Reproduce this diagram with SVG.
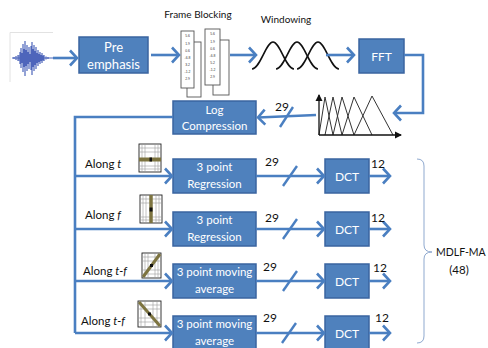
<svg xmlns="http://www.w3.org/2000/svg" width="488" height="348" viewBox="0 0 488 348">
  <defs>
    <style>
      .box { fill: #4f81bd; stroke: #3a64a0; stroke-width: 1.5; }
      .bt { font-family: Lato, "Liberation Sans", Arial, sans-serif; font-size: 11.5px; fill: #ffffff; text-anchor: middle; }
      .lbl { font-family: Lato, "Liberation Sans", Arial, sans-serif; fill: #111111; }
      .conn { fill: none; stroke: #4a7fc1; stroke-width: 2.6; }
      .slash { fill: none; stroke: #4a7fc1; stroke-width: 2.4; }
      .strip { fill: #ffffff; stroke: #555555; stroke-width: 0.9; }
      .num { font-family: "Liberation Sans", Arial, sans-serif; font-size: 3.4px; fill: #333333; text-anchor: middle; }
      .grid { stroke: #9a9a9a; stroke-width: 0.6; fill: none; }
      .gframe { fill: #ffffff; stroke: #222222; stroke-width: 0.9; }
      .band { stroke: #7d7440; stroke-width: 4; fill: none; }
      .curve { fill: none; stroke: #111111; stroke-width: 1.6; }
      .tri { fill: none; stroke: #333333; stroke-width: 1; }
    </style>
    <marker id="arr" markerUnits="userSpaceOnUse" markerWidth="12" markerHeight="18" refX="9" refY="9" orient="auto">
      <path d="M2,1.5 L9,9 L2,16.5" fill="none" stroke="#4a7fc1" stroke-width="2.6"/>
    </marker>
    <marker id="axarr" markerUnits="userSpaceOnUse" markerWidth="8" markerHeight="8" refX="6" refY="4" orient="auto">
      <path d="M0,0.5 L7,4 L0,7.5 Z" fill="#111111"/>
    </marker>
    <filter id="soft" x="-10%" y="-10%" width="120%" height="120%">
      <feGaussianBlur stdDeviation="0.45"/>
    </filter>
  </defs>

  <rect width="488" height="348" fill="#ffffff"/>

  <!-- speech signal picture -->
  <g id="signal">
    <path d="M10,82 L10,32.5 L53,32.5" fill="none" stroke="#e2e2e2" stroke-width="1"/>
    <g filter="url(#soft)" stroke="#3a55b4" stroke-width="1.2" opacity="0.9">
      <path d="M12,58 H53"/>
      <path d="M14,57 V59 M16,56 V60 M18,55 V61 M20,52 V64 M21,48 V68 M22,53 V63 M23,44 V72 M24,49 V67 M25,41 V76 M26,50 V66 M27,45 V71 M28,52 V64 M29,47 V69 M30,54 V62 M31,46 V70 M32,42 V75 M33,49 V67 M34,45 V71 M35,51 V65 M36,47 V69 M37,53 V63 M38,50 V66 M39,54 V62 M40,52 V64 M41,55 V61 M42,53 V63 M43,56 V60 M44,55 V61 M46,56.5 V59.5 M48,57 V59"/>
      <path d="M18,55 H44 V61 H18 Z" fill="#3a55b4" stroke="none" opacity="0.55"/>
    </g>
  </g>

  <!-- processing blocks -->
  <g id="pre-emphasis">
    <rect class="box" x="79" y="37" width="69" height="36"/>
    <text class="bt" x="113.5" y="51.5" style="font-size:13px">Pre</text>
    <text class="bt" x="113.5" y="68.5" style="font-size:13px">emphasis</text>
  </g>

  <g id="frame-blocking">
    <text class="lbl" x="198" y="18" font-size="10" text-anchor="middle">Frame Blocking</text>
    <rect class="strip" x="187" y="42" width="14" height="55"/>
    <rect class="strip" x="181" y="31" width="13" height="57"/>
    <g>
      <text class="num" x="187.5" y="37">5.6</text>
      <text class="num" x="187.5" y="45">1.9</text>
      <text class="num" x="187.5" y="52">0.6</text>
      <text class="num" x="187.5" y="59">-6.8</text>
      <text class="num" x="187.5" y="66">3.2</text>
      <text class="num" x="187.5" y="73">-1.2</text>
      <text class="num" x="187.5" y="80">2.9</text>
    </g>
    <rect class="strip" x="213" y="40" width="16" height="55"/>
    <rect class="strip" x="205" y="29" width="15" height="56"/>
    <g>
      <text class="num" x="212.5" y="35">5.6</text>
      <text class="num" x="212.5" y="43">1.9</text>
      <text class="num" x="212.5" y="50">0.6</text>
      <text class="num" x="212.5" y="57">-6.8</text>
      <text class="num" x="212.5" y="64">5.2</text>
      <text class="num" x="212.5" y="71">-1.2</text>
      <text class="num" x="212.5" y="78">2.9</text>
    </g>
  </g>

  <g id="windowing">
    <text class="lbl" x="286" y="23" font-size="10" text-anchor="middle">Windowing</text>
    <path class="curve" d="M252,69 C260,69 266,42 273,42 C280,42 286,69 294,69"/>
    <path class="curve" d="M276,69 C284,69 290,42 297,42 C304,42 310,69 318,69"/>
    <path class="curve" d="M297,69 C305,69 311,42 318,42 C325,42 331,69 339,69"/>
  </g>

  <g id="fft">
    <rect class="box" x="359" y="39" width="45" height="34"/>
    <text class="bt" x="381.5" y="61" style="font-size:12px">FFT</text>
  </g>

  <g id="mel-filterbank">
    <path class="tri" d="M319,135 L325,97 L333,135 M325,135 L333,97 L342,135 M333,135 L342,97 L354,135 M342,135 L354,97 L372,135 M354,135 L372,96 L393,135"/>
    <path d="M319,135 V95" stroke="#111111" stroke-width="1.3" marker-end="url(#axarr)"/>
    <path d="M319,135 H401" stroke="#111111" stroke-width="1.3" marker-end="url(#axarr)"/>
  </g>

  <g id="log-compression">
    <rect class="box" x="173" y="101" width="83" height="33"/>
    <text class="bt" x="214.5" y="113.5">Log</text>
    <text class="bt" x="214.5" y="130">Compression</text>
  </g>

  <!-- delta branches -->
  <g id="along-t">
    <text class="lbl" x="85" y="167.5" font-size="11.5">Along <tspan font-style="italic">t</tspan></text>
    <rect class="gframe" x="139" y="144" width="22" height="28"/>
    <path class="grid" d="M142,144 V172 M145,144 V172 M155,144 V172 M158,144 V172 M139,148 H161 M139,152 H161 M139,166 H161 M139,169 H161"/>
    <path class="band" d="M139,159.5 H161"/>
    <rect x="149.5" y="157.5" width="2.5" height="4" fill="#111111"/>
  </g>

  <g id="along-f">
    <text class="lbl" x="85" y="218.5" font-size="11.5">Along <tspan font-style="italic">f</tspan></text>
    <rect class="gframe" x="140" y="195" width="22" height="28"/>
    <path class="grid" d="M143,195 V223 M146,195 V223 M156,195 V223 M159,195 V223 M140,199 H162 M140,203 H162 M140,217 H162 M140,220 H162"/>
    <path class="band" d="M151,195 V223" style="stroke-width:3.5"/>
    <rect x="149.5" y="207.5" width="3" height="4" fill="#111111"/>
  </g>

  <g id="along-tf-rising">
    <text class="lbl" x="83" y="274.5" font-size="11.5">Along <tspan font-style="italic">t-f</tspan></text>
    <rect class="gframe" x="142" y="253" width="19" height="25"/>
    <path class="grid" d="M145,253 V278 M148,253 V278 M155,253 V278 M158,253 V278 M142,257 H161 M142,261 H161 M142,270 H161 M142,274 H161"/>
    <path class="band" d="M143,277 L160,254" style="stroke-width:3"/>
    <rect x="150" y="264" width="3" height="3" fill="#111111"/>
  </g>

  <g id="along-tf-falling">
    <text class="lbl" x="81" y="324.5" font-size="11.5">Along <tspan font-style="italic">t-f</tspan></text>
    <rect class="gframe" x="138" y="301" width="23" height="26"/>
    <path class="grid" d="M141,301 V327 M145,301 V327 M153,301 V327 M157,301 V327 M138,305 H161 M138,309 H161 M138,318 H161 M138,322 H161"/>
    <path class="band" d="M139,302 L160,326" style="stroke-width:3"/>
    <rect x="148" y="312.5" width="3" height="3" fill="#111111"/>
  </g>

  <g id="regression-t">
    <rect class="box" x="173" y="159" width="83" height="34"/>
    <text class="bt" x="214.5" y="170.5">3 point</text>
    <text class="bt" x="214.5" y="188">Regression</text>
  </g>
  <g id="regression-f">
    <rect class="box" x="173" y="212" width="83" height="34"/>
    <text class="bt" x="214.5" y="223.5">3 point</text>
    <text class="bt" x="214.5" y="241">Regression</text>
  </g>
  <g id="moving-average-1">
    <rect class="box" x="173" y="264" width="83" height="34"/>
    <text class="bt" x="214.5" y="275.5">3 point moving</text>
    <text class="bt" x="214.5" y="293">average</text>
  </g>
  <g id="moving-average-2">
    <rect class="box" x="173" y="316" width="83" height="34"/>
    <text class="bt" x="214.5" y="327.5">3 point moving</text>
    <text class="bt" x="214.5" y="345">average</text>
  </g>

  <g id="dct-1">
    <rect class="box" x="325" y="159" width="44" height="34"/>
    <text class="bt" x="347" y="180.5" style="font-size:12px">DCT</text>
  </g>
  <g id="dct-2">
    <rect class="box" x="325" y="212" width="44" height="34"/>
    <text class="bt" x="347" y="233.5" style="font-size:12px">DCT</text>
  </g>
  <g id="dct-3">
    <rect class="box" x="325" y="264" width="44" height="34"/>
    <text class="bt" x="347" y="285.5" style="font-size:12px">DCT</text>
  </g>
  <g id="dct-4">
    <rect class="box" x="325" y="316" width="44" height="34"/>
    <text class="bt" x="347" y="337.5" style="font-size:12px">DCT</text>
  </g>

  <g id="mdlf-ma">
    <path d="M417,159 Q424,159 424,166 V245 Q424,252 432,252 Q424,252 424,259 V336 Q424,343 417,343" fill="none" stroke="#8fa9cf" stroke-width="1"/>
    <text class="lbl" x="436" y="256" font-size="10.5">MDLF-MA</text>
    <text class="lbl" x="459" y="274" font-size="11.5" text-anchor="middle">(48)</text>
  </g>

  <!-- connectors -->
  <g id="connectors">
    <path class="conn" d="M53,58 H77" marker-end="url(#arr)"/>
    <path class="conn" d="M151,55 H179" marker-end="url(#arr)"/>
    <path class="conn" d="M230,55 H256" marker-end="url(#arr)"/>
    <path class="conn" d="M326,55 H354" marker-end="url(#arr)"/>
    <path class="conn" d="M404,55 H423 V113 H394" marker-end="url(#arr)"/>
    <path class="conn" d="M316,115 L258,117.5" marker-end="url(#arr)"/>
    <path class="slash" d="M280,127 L293,107"/>
    <path class="conn" d="M173,117 H75 V333"/>
    <path class="conn" d="M75,176 H172" marker-end="url(#arr)"/>
    <path class="conn" d="M75,229 H172" marker-end="url(#arr)"/>
    <path class="conn" d="M75,281 H172" marker-end="url(#arr)"/>
    <path class="conn" d="M75,333 H172" marker-end="url(#arr)"/>
    <path class="conn" d="M256,176 H324" marker-end="url(#arr)"/>
    <path class="conn" d="M256,229 H324" marker-end="url(#arr)"/>
    <path class="conn" d="M256,281 H324" marker-end="url(#arr)"/>
    <path class="conn" d="M256,333 H324" marker-end="url(#arr)"/>
    <path class="slash" d="M283,186 L297,166"/>
    <path class="slash" d="M283,239 L297,219"/>
    <path class="slash" d="M283,291 L297,271"/>
    <path class="slash" d="M282,343 L296,323"/>
    <path class="conn" d="M369,176 H390" marker-end="url(#arr)"/>
    <path class="conn" d="M369,229 H390" marker-end="url(#arr)"/>
    <path class="conn" d="M369,281 H390" marker-end="url(#arr)"/>
    <path class="conn" d="M369,333 H390" marker-end="url(#arr)"/>
  </g>

  <!-- dimension labels -->
  <g id="dimension-labels" class="lbl" font-size="12">
    <text x="275" y="110.5">29</text>
    <text x="265" y="166">29</text>
    <text x="265" y="221.5">29</text>
    <text x="263" y="271">29</text>
    <text x="263" y="322">29</text>
    <text x="371" y="168">12</text>
    <text x="371" y="222">12</text>
    <text x="373" y="272">12</text>
    <text x="375" y="322">12</text>
  </g>
</svg>
